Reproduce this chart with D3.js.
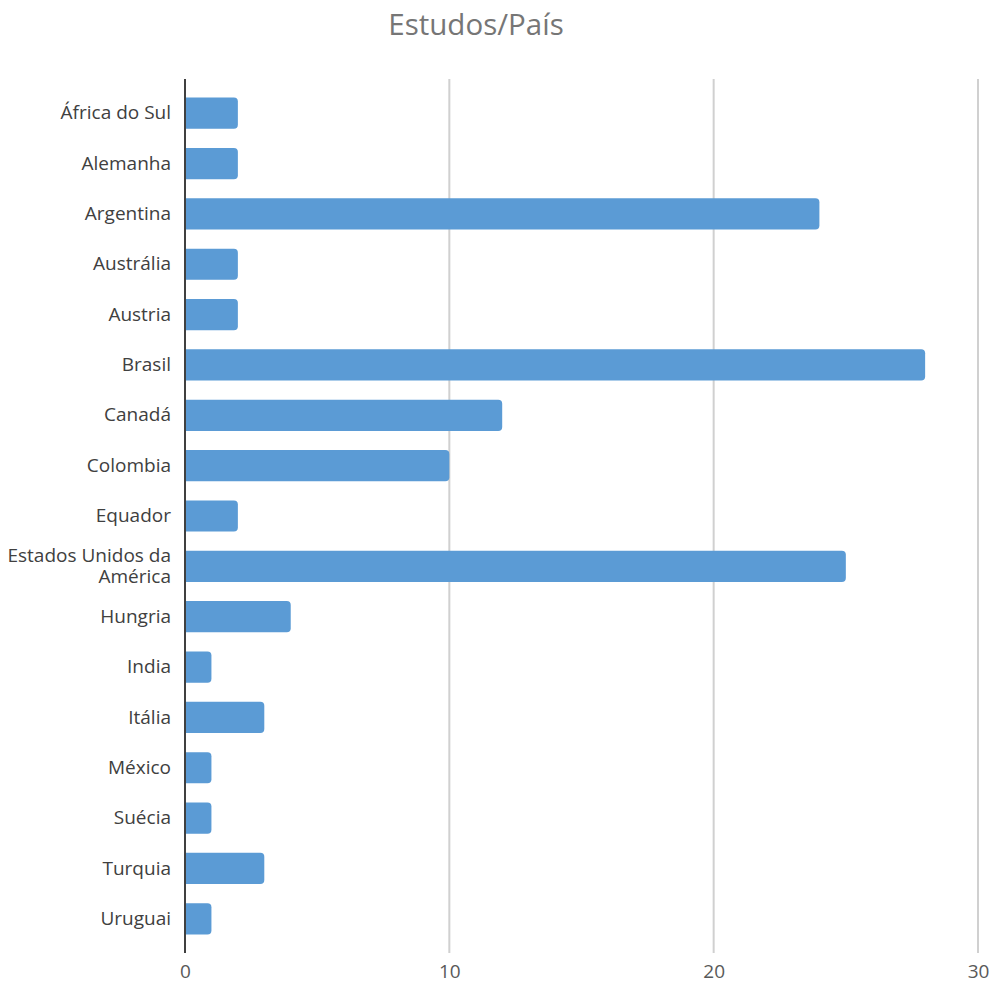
<!DOCTYPE html>
<html><head><meta charset="utf-8">
<script src="https://cdn.jsdelivr.net/npm/d3@7"></script>
<style>body{margin:0;background:#fff;}svg{display:block;font-family:"Open Sans",sans-serif;}</style>
</head><body>
<svg id="c" width="995" height="985"></svg>
<script>
const categories = ["África do Sul","Alemanha","Argentina","Austrália","Austria","Brasil","Canadá","Colombia","Equador","Estados Unidos da América","Hungria","India","Itália","México","Suécia","Turquia","Uruguai"];
const values = [2,2,24,2,2,28,12,10,2,25,4,1,3,1,1,3,1];
const tickValues = [0,10,20,30];
const title = "Estudos/País";

const svg = d3.select("#c");
const x = d3.scaleLinear().domain([0,30]).range([185,978]);
const y = d3.scaleBand().domain(categories).range([88,944]).paddingInner(0.38).paddingOuter(0.19);

svg.append("text").attr("x",476).attr("y",35).attr("text-anchor","middle")
  .attr("font-size",29.5).attr("fill","#767676").text(title);

// gridlines
svg.append("g").selectAll("line").data(tickValues.filter(d=>d>0)).join("line")
  .attr("x1",d=>x(d)).attr("x2",d=>x(d)).attr("y1",79).attr("y2",953)
  .attr("stroke","#d0d0d0").attr("stroke-width",2);

// bars with rounded right end
const r = 4;
svg.append("g").selectAll("path").data(categories).join("path")
  .attr("fill","#5B9BD5")
  .attr("d",(c,i)=>{
    const x0 = x(0), x1 = x(values[i]), y0 = y(c), h = y.bandwidth();
    return `M${x0},${y0}H${x1-r}Q${x1},${y0} ${x1},${y0+r}V${y0+h-r}Q${x1},${y0+h} ${x1-r},${y0+h}H${x0}Z`;
  });

// axis line
svg.append("line").attr("x1",x(0)).attr("x2",x(0)).attr("y1",79).attr("y2",953)
  .attr("stroke","#404040").attr("stroke-width",2);

// x tick labels
const xa = d3.axisBottom(x).tickValues(tickValues).tickSize(0).tickPadding(0);
const gx = svg.append("g").attr("transform","translate(0,964)").call(xa);
gx.select(".domain").remove();
gx.selectAll("text").attr("font-size",19).attr("fill","#595959").attr("font-family","Open Sans");

// y labels
const ya = d3.axisLeft(y).tickSize(0).tickPadding(14);
const gy = svg.append("g").attr("transform",`translate(${x(0)},0)`).call(ya);
gy.select(".domain").remove();
gy.selectAll("text").attr("font-size",19).attr("fill","#404040").attr("font-family","Open Sans")
  .each(function(d){
    if(d==="Estados Unidos da América"){
      const t = d3.select(this); t.text(null).attr("dy",null);
      t.append("tspan").attr("x",-14).attr("dy","-0.25em").text("Estados Unidos da");
      t.append("tspan").attr("x",-14).attr("dy","1.15em").text("América");
    }
  });
</script>
</body></html>
